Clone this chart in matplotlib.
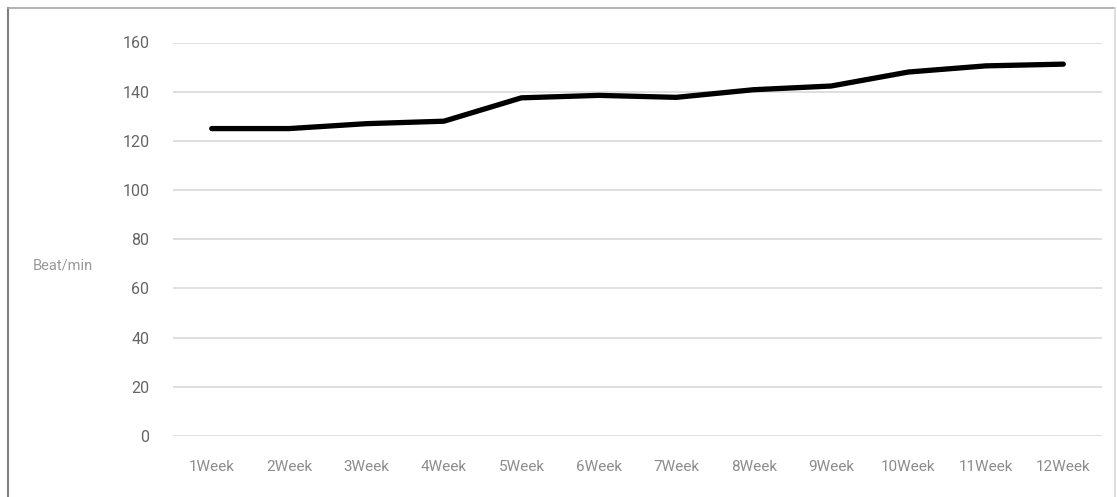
import numpy as np
import matplotlib.pyplot as plt
from matplotlib.lines import Line2D

weeks = ["1Week", "2Week", "3Week", "4Week", "5Week", "6Week",
         "7Week", "8Week", "9Week", "10Week", "11Week", "12Week"]
bpm = [125, 125, 127, 128, 137.5, 138.5, 137.7, 140.8, 142.3, 148, 150.5, 151.2]
yticks = [0, 20, 40, 60, 80, 100, 120, 140, 160]

plt.rcParams['font.family'] = ['Roboto', 'DejaVu Sans']

fig = plt.figure(figsize=(11.17, 4.97), dpi=100)
ax = fig.add_axes([173 / 1117, 1 - 436 / 497, 929 / 1117, 393.5 / 497])

x = np.arange(len(weeks))
ax.plot(x, bpm, color='black', lw=3.8, solid_joinstyle='round', solid_capstyle='round', zorder=3)

ax.set_xlim(-0.5, len(weeks) - 0.5)
ax.set_ylim(0, 160)
ax.set_yticks(yticks)
ax.set_xticks(x)
ax.set_xticklabels(weeks)
ax.grid(axis='y', color='#d9d9d9', lw=1.2)
ax.set_axisbelow(True)
for s in ax.spines.values():
    s.set_visible(False)
ax.tick_params(axis='both', length=0)
ax.tick_params(axis='y', labelsize=11.5, labelcolor='#666666', pad=17)
ax.tick_params(axis='x', labelsize=11, labelcolor='#8c8c8c', pad=17)

fig.text(63 / 1117, 1 - 265 / 497, "Beat/min", fontsize=10.5, color='#999999', ha='center', va='center')

# outer frame
fig.add_artist(Line2D([8 / 1117, 8 / 1117], [0, 1 - 8 / 497], transform=fig.transFigure, color='#808080', lw=1.5))
fig.add_artist(Line2D([8 / 1117, 1115 / 1117], [1 - 8 / 497, 1 - 8 / 497], transform=fig.transFigure, color='#a6a6a6', lw=1.2))
fig.add_artist(Line2D([1115 / 1117, 1115 / 1117], [0, 1 - 8 / 497], transform=fig.transFigure, color='#d9d9d9', lw=1.2))

fig.savefig("out.png", dpi=100)
